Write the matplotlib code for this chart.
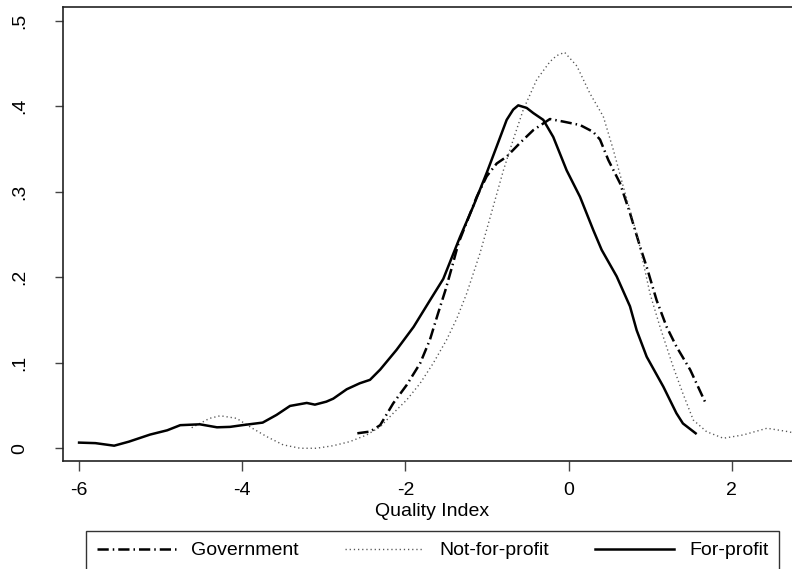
import matplotlib
matplotlib.use("Agg")
import matplotlib.pyplot as plt

# kernel density curves
gov_x = [-2.59, -2.475, -2.435, -2.31, -2.15, -1.985, -1.82, -1.70, -1.60, -1.51, -1.43, -1.35,
         -1.127, -1.005, -0.882, -0.76, -0.597, -0.434, -0.23, -0.066, 0.139, 0.30, 0.384,
         0.486, 0.629, 0.751, 0.874, 0.956, 1.078, 1.20, 1.32, 1.49, 1.67]
gov_y = [0.0175, 0.019, 0.0194, 0.027, 0.0526, 0.074, 0.0994, 0.127, 0.158, 0.185, 0.212, 0.240,
         0.294, 0.318, 0.333, 0.341, 0.357, 0.372, 0.385, 0.382, 0.378, 0.370, 0.361,
         0.337, 0.310, 0.275, 0.236, 0.212, 0.173, 0.142, 0.119, 0.0916, 0.0545]

nfp_x = [-4.62, -4.52, -4.40, -4.27, -4.07, -3.87, -3.70, -3.50, -3.29, -3.09, -2.885, -2.68,
         -2.475, -2.31, -2.15, -1.985, -1.82, -1.66, -1.495, -1.37, -1.25, -1.087, -0.924,
         -0.80, -0.679, -0.556, -0.392, -0.23, -0.15, -0.05, 0.10, 0.26, 0.424, 0.547, 0.669,
         0.853, 0.996, 1.119, 1.28, 1.40, 1.527, 1.69, 1.895, 2.14, 2.43, 2.69, 2.85]
nfp_y = [0.024, 0.029, 0.035, 0.038, 0.035, 0.023, 0.0136, 0.004, 0.000, 0.000, 0.003, 0.0078,
         0.0156, 0.025, 0.041, 0.0565, 0.076, 0.0994, 0.127, 0.152, 0.181, 0.228, 0.283,
         0.325, 0.361, 0.396, 0.431, 0.452, 0.459, 0.463, 0.447, 0.415, 0.388, 0.349, 0.306,
         0.244, 0.181, 0.142, 0.0954, 0.064, 0.033, 0.0194, 0.0117, 0.0156, 0.0234, 0.0194, 0.016]

fp_x = [-6.00, -5.80, -5.57, -5.39, -5.13, -4.92, -4.76, -4.52, -4.31, -4.15, -4.00, -3.75,
        -3.58, -3.415, -3.21, -3.11, -2.97, -2.885, -2.72, -2.56, -2.435, -2.31, -2.11, -1.90,
        -1.70, -1.537, -1.332, -1.169, -1.005, -0.882, -0.760, -0.680, -0.618, -0.515, -0.434,
        -0.311, -0.189, -0.025, 0.139, 0.302, 0.404, 0.588, 0.751, 0.833, 0.956, 1.16, 1.32,
        1.40, 1.556]
fp_y = [0.0066, 0.0060, 0.0030, 0.0077, 0.016, 0.021, 0.027, 0.028, 0.0245, 0.025, 0.027, 0.030,
        0.039, 0.0495, 0.053, 0.051, 0.0545, 0.058, 0.069, 0.076, 0.080, 0.092, 0.115, 0.142,
        0.173, 0.198, 0.247, 0.283, 0.322, 0.353, 0.384, 0.396, 0.401, 0.398, 0.392,
        0.384, 0.364, 0.325, 0.294, 0.255, 0.232, 0.201, 0.166, 0.138, 0.107, 0.072, 0.041,
        0.029, 0.0175]

x_ticks = [-6, -4, -2, 0, 2]
y_ticks = [0, 0.1, 0.2, 0.3, 0.4, 0.5]
y_labels = ["0", ".1", ".2", ".3", ".4", ".5"]

plt.rcParams["font.family"] = ["Liberation Sans", "DejaVu Sans"]

fig = plt.figure(figsize=(7.92, 5.69), dpi=100)
ax = fig.add_axes([63 / 792, 108 / 569, 738 / 792, 454 / 569])

ax.plot(gov_x, gov_y, color="black", linewidth=1.8, dash_joinstyle="round",
        linestyle=(0, (4.5, 1.6, 0.6, 1.6)), label="Government")
ax.plot(nfp_x, nfp_y, color="#555555", linewidth=1.0,
        linestyle=(0, (0.9, 2.1)), label="Not-for-profit")
ax.plot(fp_x, fp_y, color="black", linewidth=1.8, solid_joinstyle="round",
        label="For-profit")

ax.set_xlim(-6.197, 2.847)
ax.set_ylim(-0.0149, 0.516)

ax.set_xticks(x_ticks)
ax.set_xticklabels([str(t) for t in x_ticks])
ax.set_yticks(y_ticks)
ax.set_yticklabels(y_labels, rotation=90, va="center")

ax.tick_params(axis="x", length=7, width=1, color="#444444", labelsize=14, pad=8)
ax.tick_params(axis="y", length=6, width=1, color="#444444", labelsize=14, pad=19)

for side in ["left", "bottom", "top", "right"]:
    ax.spines[side].set_color("#222222")
    ax.spines[side].set_linewidth(1.2)

ax.set_xlabel("Quality Index", fontsize=14, labelpad=3)

fig.legend(loc="upper left", bbox_to_anchor=(86 / 792, 1 - 531 / 569, 693 / 792, 0),
           mode="expand", ncol=3, fontsize=14, handlelength=4.1, handletextpad=0.75,
           borderpad=0.55, borderaxespad=0, fancybox=False, edgecolor="#333333",
           framealpha=1)

fig.savefig("out.png", dpi=100)
